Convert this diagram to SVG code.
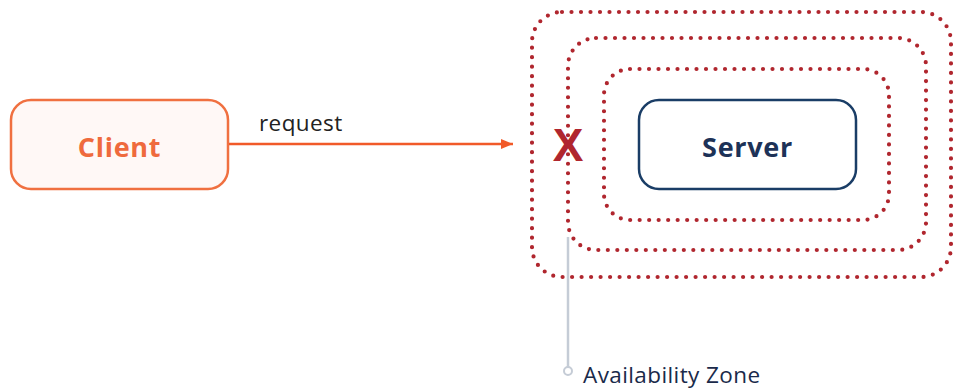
<svg xmlns="http://www.w3.org/2000/svg" width="954" height="389" viewBox="0 0 954 389">
  <defs>
    <marker id="arrow" viewBox="0 0 12 10" refX="12" refY="5" markerWidth="12" markerHeight="10" markerUnits="userSpaceOnUse" orient="auto">
      <path d="M0,0 L12,5 L0,10 Z" fill="#f15a29"/>
    </marker>
  </defs>
  <style>
    .node-text { font-family: "Open Sans", "Noto Sans", sans-serif; font-weight: 700; font-size: 27px; letter-spacing: 0.7px; text-anchor: middle; dominant-baseline: central; }
    .label { font-family: "Open Sans", "Noto Sans", sans-serif; font-size: 22.5px; letter-spacing: 0.4px; }
    .zone { fill: none; stroke: #b0262e; stroke-width: 4.2; stroke-linecap: round; stroke-dasharray: 0 9.5; }
  </style>

  <!-- availability zones -->
  <g id="zones">
    <rect class="zone" x="532" y="12" width="419" height="265" rx="30"/>
    <rect class="zone" x="568" y="38" width="358" height="212" rx="28"/>
    <rect class="zone" x="604" y="69" width="285" height="151" rx="26"/>
  </g>

  <g id="client">
    <rect x="11" y="100" width="217" height="89" rx="20" fill="#fff8f6" stroke="#f07040" stroke-width="2.5"/>
    <text class="node-text" x="119.5" y="146" fill="#ef6a3d">Client</text>
  </g>

  <g id="server">
    <rect x="639" y="100" width="217" height="89" rx="20" fill="#ffffff" stroke="#1a3d66" stroke-width="2.5"/>
    <text class="node-text" x="747.5" y="146" fill="#1d3257">Server</text>
  </g>

  <g id="connectors">
    <line x1="229" y1="144" x2="513" y2="144" stroke="#f15a29" stroke-width="2.5" marker-end="url(#arrow)"/>
    <text class="label" x="259" y="131" fill="#222222">request</text>
  </g>

  <!-- failure marker -->
  <g id="failure">
    <text x="568" y="161" font-family="Liberation Sans, Arial, sans-serif" font-weight="700" font-size="46" text-anchor="middle" fill="#b0262e">X</text>
  </g>

  <g id="zone-callout">
    <line x1="568" y1="237" x2="568" y2="367" stroke="#c5ccd6" stroke-width="2.5"/>
    <circle cx="568" cy="371" r="4" fill="#ffffff" stroke="#c5ccd6" stroke-width="2"/>
    <text class="label" x="583" y="383" fill="#1a2a4a">Availability Zone</text>
  </g>
</svg>
